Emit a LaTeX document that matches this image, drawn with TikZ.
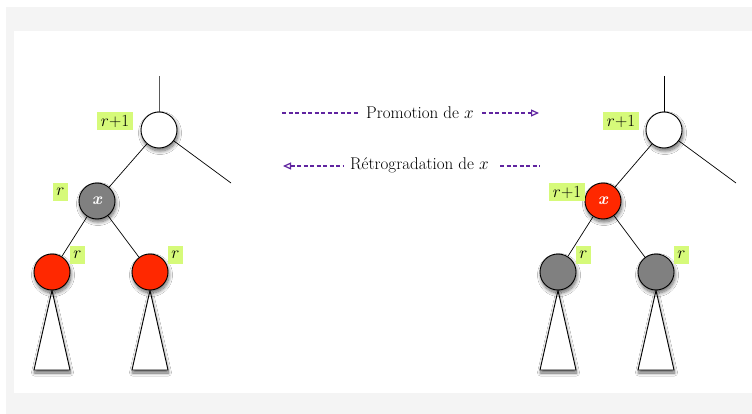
\documentclass[tikz,border=0pt]{standalone}
\usepackage{fontspec}
\usetikzlibrary{shadows,shadows.blur,arrows.meta,backgrounds}
\definecolor{bgray}{RGB}{244,244,244}
\definecolor{nodegray}{RGB}{128,128,128}
\definecolor{nodered}{RGB}{255,40,0}
\definecolor{labgreen}{RGB}{214,250,122}
\definecolor{arrpurple}{RGB}{96,36,160}
\begin{document}
\begin{tikzpicture}[x=1pt,y=-1pt,
  shd/.style={blur shadow={shadow xshift=1pt,shadow yshift=-3pt,shadow blur radius=3.5pt,shadow blur steps=12,shadow opacity=60}},
  tshd/.style={blur shadow={shadow xshift=0.5pt,shadow yshift=-3pt,shadow blur radius=3pt,shadow blur steps=12,shadow opacity=60}},
  nd/.style={circle,draw=black,line width=0.9pt,minimum size=36pt,inner sep=0pt,shd},
  wnode/.style={nd,fill=white},
  gnode/.style={nd,fill=nodegray},
  rnode/.style={nd,fill=nodered},
  xlab/.style={text=white,font=\fontsize{17}{17}\selectfont\bfseries\itshape},
  lab/.style={fill=labgreen,inner sep=0pt,minimum height=18pt,font=\fontsize{17}{17}\selectfont},
  lab1/.style={lab,minimum width=15pt},
  lab2/.style={lab,minimum width=36pt},
  edge/.style={line width=0.7pt,draw=black},
  tri/.style={draw=black,fill=white,line width=0.9pt,line join=miter,tshd},
  arr/.style={draw=arrpurple,line width=1.2pt,dash pattern=on 4pt off 2.5pt},
  arrtxt/.style={font=\fontsize{17}{17}\selectfont,inner sep=0pt}
]
\useasboundingbox (0,0) rectangle (752,414);

% ---------- left tree ----------
\coordinate (Ltop) at (159,76);
\coordinate (Lfree) at (231,183);
\coordinate (LtA) at (34,370); \coordinate (LtB) at (70,370);
\coordinate (LtC) at (132,370); \coordinate (LtD) at (168,370);
\node[wnode] (Lroot) at (159,130) {};
\node[gnode,xlab] (Lx) at (97,201) {x};
\node[rnode] (Ll) at (52,272) {};
\node[rnode] (Lr) at (150,272) {};
\node[lab2] (LlabRoot) at (115,121) {$r$+1};
\node[lab1] (LlabX) at (60.5,192) {$r$};
\node[lab1] (LlabL) at (77.5,254.5) {$r$};
\node[lab1] (LlabR) at (175.5,254.5) {$r$};

% ---------- right tree ----------
\coordinate (Rtop) at (664,76);
\coordinate (Rfree) at (736,183);
\coordinate (RtA) at (540,370); \coordinate (RtB) at (576,370);
\coordinate (RtC) at (638,370); \coordinate (RtD) at (674,370);
\node[wnode] (Rroot) at (664,130) {};
\node[rnode,xlab] (Rx) at (603,201) {x};
\node[gnode] (Rl) at (558,272) {};
\node[gnode] (Rr) at (656,272) {};
\node[lab2] (RlabRoot) at (621,121) {$r$+1};
\node[lab2] (RlabX) at (567,192) {$r$+1};
\node[lab1] (RlabL) at (583.5,254.5) {$r$};
\node[lab1] (RlabR) at (681.5,254.5) {$r$};

\begin{scope}[on background layer]
\fill[bgray] (6,7) rectangle (760,420);
\fill[white] (14,31) rectangle (760,393);
\draw[edge,draw=black!65] (Ltop) -- (Lroot.north);
\draw[edge] (Lroot) -- (Lfree);
\draw[edge] (Lroot) -- (Lx);
\draw[edge] (Lx) -- (Ll);
\draw[edge] (Lx) -- (Lr);
\draw[tri] (Ll.south) -- (LtB) -- (LtA) -- cycle;
\draw[tri] (Lr.south) -- (LtD) -- (LtC) -- cycle;
\draw[edge] (Rtop) -- (Rroot.north);
\draw[edge] (Rroot) -- (Rfree);
\draw[edge] (Rroot) -- (Rx);
\draw[edge] (Rx) -- (Rl);
\draw[edge] (Rx) -- (Rr);
\draw[tri] (Rl.south) -- (RtB) -- (RtA) -- cycle;
\draw[tri] (Rr.south) -- (RtD) -- (RtC) -- cycle;
\end{scope}

% ---------- arrows ----------
\node[arrtxt] (promo) at (420,113) {Promotion de $x$};
\coordinate (p1) at (282,113); \coordinate (p2) at (358,113);
\coordinate (p3) at (482,113); \coordinate (p4) at (539,113);
\draw[arr] (p1) -- (p2);
\draw[arr,-{Triangle[open,length=8pt,width=7pt]}] (p3) -- (p4);

\node[arrtxt] (retro) at (419.5,165) {R\'etrogradation de $x$};
\coordinate (q1) at (283,166); \coordinate (q2) at (343,166);
\coordinate (q3) at (500,166); \coordinate (q4) at (540,166);
\draw[arr,{Triangle[open,length=8pt,width=7pt]}-] (q1) -- (q2);
\draw[arr] (q3) -- (q4);
\end{tikzpicture}
\end{document}
